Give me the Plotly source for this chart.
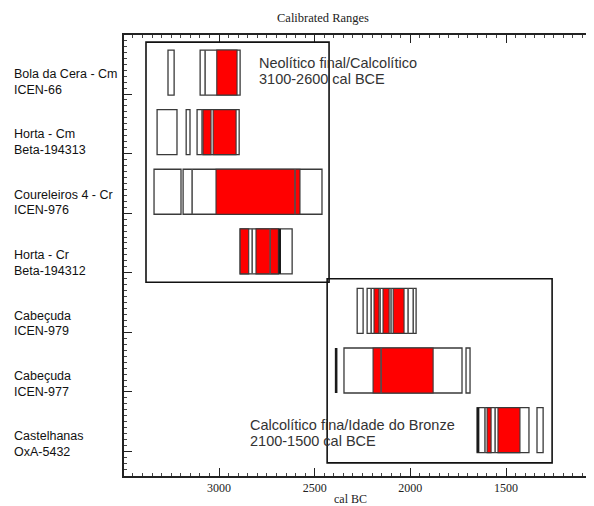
import plotly.graph_objects as go

# ---------------- data ----------------
sample_names = ["Bola da Cera - Cm", "Horta - Cm", "Coureleiros 4 - Cr", "Horta - Cr",
                "Cabeçuda", "Cabeçuda", "Castelhanas"]
lab_codes = ["ICEN-66", "Beta-194313", "ICEN-976", "Beta-194312", "ICEN-979", "ICEN-977", "OxA-5432"]

# 2-sigma calibrated ranges (cal BC): row, older bound, younger bound
sig2_row = [0, 0, 1, 1, 1, 2, 2, 3, 4, 4, 5, 5, 6, 6]
sig2_from = [3267, 3099, 3324, 3172, 3115, 3340, 3188, 2890, 2278, 2226, 2347, 1709, 1651, 1338]
sig2_to = [3235, 2890, 3220, 3152, 2895, 3199, 2462, 2618, 2247, 1970, 1730, 1688, 1380, 1306]

# 1-sigma calibrated ranges (cal BC)
sig1_row = [0, 1, 1, 2, 3, 3, 4, 4, 4, 5, 6, 6]
sig1_from = [3012, 3084, 3031, 3016, 2890, 2807, 2190, 2143, 2090, 2195, 1599, 1542]
sig1_to = [2906, 3042, 2911, 2577, 2845, 2690, 2164, 2111, 2033, 1881, 1578, 1427]

# calibration-curve intercepts (cal BC)
icpt_row = [0, 1, 2, 2, 3, 3, 4, 4, 4, 4, 4, 5, 6, 6]
icpt_year = [3073, 3089, 3141, 2603, 2827, 2733, 2205, 2158, 2101, 2012, 1985, 2153, 1610, 1557]
# strong intercepts / very narrow ranges
strong_row = [3, 5, 6]
strong_year = [2683, 2388, 1646]

period_names = ["Neolítico final/Calcolítico", "Calcolítico fina/Idade do Bronze"]
period_spans = ["3100-2600 cal BCE", "2100-1500 cal BCE"]

x_ticks = [3000, 2500, 2000, 1500]

# ---------------- figure ----------------
OFF = 8                      # page body margin
W, H = 594 - OFF, 506 - OFF
L, R, T, B = 116, 0, 27, 30
pw, ph = W - L - R, H - T - B
BAR_W = 0.755
EDGE = "#3a3a3a"
SANS = "Liberation Sans, Arial"
SERIF = "Liberation Serif, Times New Roman"


def fx(px):
    return (px - OFF - L) / pw


def fy(py):
    return 1 - (py - OFF - T) / ph


fig = go.Figure()

fig.add_trace(go.Bar(
    orientation="h", y=sig2_row, base=sig2_to,
    x=[f - t for f, t in zip(sig2_from, sig2_to)],
    width=BAR_W, marker=dict(color="white", line=dict(color=EDGE, width=1.3)),
    hoverinfo="skip", showlegend=False))

fig.add_trace(go.Bar(
    orientation="h", y=sig1_row, base=sig1_to,
    x=[f - t for f, t in zip(sig1_from, sig1_to)],
    width=BAR_W, marker=dict(color="#ff0000", line=dict(color=EDGE, width=1.1)),
    hoverinfo="skip", showlegend=False))


def vlines(rows, years):
    xs, ys = [], []
    for r, yr in zip(rows, years):
        xs += [yr, yr, None]
        ys += [r - BAR_W / 2, r + BAR_W / 2, None]
    return xs, ys


xs, ys = vlines(icpt_row, icpt_year)
fig.add_trace(go.Scatter(x=xs, y=ys, mode="lines", line=dict(color="#505050", width=1.6),
                         hoverinfo="skip", showlegend=False))
xs, ys = vlines(strong_row, strong_year)
fig.add_trace(go.Scatter(x=xs, y=ys, mode="lines", line=dict(color="#1a1a1a", width=2.6),
                         hoverinfo="skip", showlegend=False))

# period boxes (data coordinates)
boxes = [dict(x0=3382, x1=2425, y0=-0.51, y1=3.52),
         dict(x0=2435, x1=1259, y0=3.46, y1=6.55)]
for b in boxes:
    fig.add_shape(type="rect", xref="x", yref="y", line=dict(color="#111", width=1.6),
                  fillcolor="rgba(0,0,0,0)", layer="above", **b)

# period texts (one annotation per line)
txt_x = [257, 248]
txt_y = [(63, 79), (425, 441)]
for name, span, x0, (y1, y2) in zip(period_names, period_spans, txt_x, txt_y):
    for t, yy in ((name, y1), (span, y2)):
        fig.add_annotation(x=fx(x0), y=fy(yy), xref="paper", yref="paper",
                           xanchor="left", yanchor="middle", text=t, showarrow=False,
                           font=dict(family=SANS, size=14.5, color="#333"))

# sample labels
for i, (n, c) in enumerate(zip(sample_names, lab_codes)):
    y1 = 74 + 60.4 * i
    for t, yy in ((n, y1), (c, y1 + 15.5)):
        fig.add_annotation(x=fx(12), y=fy(yy), xref="paper", yref="paper",
                           xanchor="left", yanchor="middle", showarrow=False, text=t,
                           font=dict(family=SANS, size=12.5, color="#111"))

fig.add_annotation(x=fx(323), y=fy(18), xref="paper", yref="paper",
                   text="Calibrated Ranges", showarrow=False, xanchor="center", yanchor="middle",
                   font=dict(family=SERIF, size=12.5, color="#222"))
fig.add_annotation(x=fx(350), y=fy(499), xref="paper", yref="paper",
                   text="cal BC", showarrow=False, xanchor="center", yanchor="middle",
                   font=dict(family=SERIF, size=12, color="#222"))

fig.update_layout(
    width=W, height=H, margin=dict(l=L, r=R, t=T, b=B),
    paper_bgcolor="white", plot_bgcolor="white", barmode="overlay",
    xaxis=dict(range=[3497, 1040], tickvals=x_ticks, ticktext=[str(v) for v in x_ticks],
               ticks="inside", ticklen=8, tickwidth=1.3, tickcolor="#222",
               showline=True, linecolor="#222", linewidth=1.5, mirror="ticks",
               showgrid=False, zeroline=False,
               tickfont=dict(family=SERIF, size=12, color="#222"),
               minor=dict(tickmode="linear", tick0=1000, dtick=50, ticks="inside", ticklen=3,
                          tickcolor="#444", tickwidth=1, showgrid=False)),
    yaxis=dict(range=[6.77, -0.63], tickvals=[i + 0.36 for i in range(7)],
               ticktext=[""] * 7, ticks="inside", ticklen=8, tickwidth=1.3, tickcolor="#222",
               showline=True, linecolor="#222", linewidth=1.5, mirror=False,
               showgrid=False, zeroline=False,
               minor=dict(tickmode="linear", tick0=0.36, dtick=0.1, ticks="inside", ticklen=3,
                          tickcolor="#444", tickwidth=1, showgrid=False)),
)

fig.write_html("out.html")
